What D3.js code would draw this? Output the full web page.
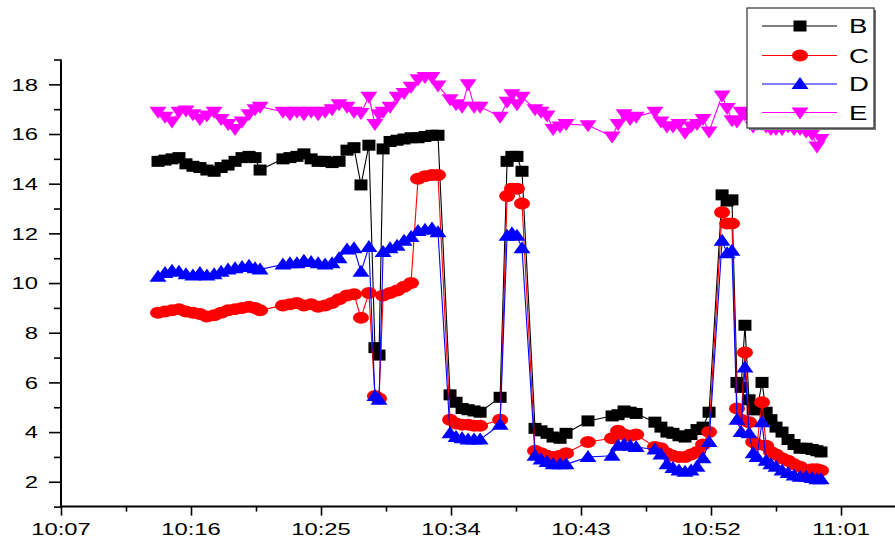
<!DOCTYPE html>
<html><head><meta charset="utf-8">
<script src="https://cdn.jsdelivr.net/npm/d3@7"></script>
<style>
html,body{margin:0;padding:0;background:#fff;}
svg{display:block;}
text{font-family:Arial,"Liberation Sans",sans-serif;}
</style></head>
<body>
<svg id="c" width="895" height="543"></svg>
<script>
const times = [
"10:13:43","10:14:12","10:14:41","10:15:10","10:15:39","10:16:08","10:16:37","10:17:06","10:17:36","10:18:05","10:18:34","10:19:03","10:19:32","10:20:01","10:20:26","10:20:47",
"10:22:22","10:22:51","10:23:20","10:23:49","10:24:19","10:24:48","10:25:17","10:25:46","10:26:15","10:26:48","10:27:17","10:27:46","10:28:19","10:28:44","10:29:01",
"10:29:18","10:29:47","10:30:16","10:30:45","10:31:14","10:31:43","10:32:12","10:32:41","10:33:06",
"10:33:56","10:34:21","10:34:46","10:35:11","10:35:36","10:36:01","10:37:24",
"10:37:53","10:38:13","10:38:34","10:38:55",
"10:39:49","10:40:14","10:40:39","10:41:04","10:41:33","10:41:58","10:43:29","10:45:09","10:45:34","10:45:59","10:46:24","10:46:49","10:48:07","10:48:32","10:48:57","10:49:22","10:49:47","10:50:12","10:50:37","10:51:02","10:51:27","10:51:52",
"10:52:46","10:53:07","10:53:27","10:53:48","10:54:05","10:54:21","10:54:38","10:54:55","10:55:11","10:55:32","10:55:49","10:56:09","10:56:30","10:56:55","10:57:20","10:57:45","10:58:10","10:58:35","10:59:00","10:59:20","10:59:37"
];
const seriesB = [
14.9,14.95,15.0,15.05,14.8,14.7,14.65,14.55,14.5,14.65,14.75,14.9,15.05,15.1,15.05,14.55,
15.0,15.05,15.1,15.2,15.0,14.9,14.9,14.85,14.9,15.35,15.45,13.95,15.55,7.4,7.1,
15.4,15.7,15.75,15.8,15.85,15.85,15.9,15.95,15.95,
5.5,5.2,4.95,4.9,4.85,4.8,5.4,
14.9,15.1,15.1,14.5,
4.15,4.05,3.95,3.8,3.75,3.95,4.45,4.65,4.7,4.85,4.8,4.75,4.4,4.2,4.0,3.95,3.85,3.8,3.9,4.1,4.2,4.8,
13.55,13.3,13.35,6.0,5.8,8.3,5.3,4.9,4.9,6.0,4.8,4.5,4.2,4.0,3.7,3.5,3.35,3.35,3.3,3.25,3.2
];
const seriesC = [
8.8,8.85,8.9,8.95,8.85,8.8,8.75,8.65,8.7,8.8,8.9,8.95,9.0,9.05,9.0,8.9,
9.1,9.15,9.2,9.1,9.15,9.05,9.1,9.2,9.35,9.5,9.55,8.6,9.6,5.45,5.35,
9.5,9.6,9.7,9.85,10.0,14.2,14.3,14.35,14.35,
4.5,4.35,4.3,4.3,4.25,4.25,4.5,
13.5,13.8,13.8,13.2,
3.25,3.15,3.05,3.0,3.05,3.15,3.6,3.75,4.05,3.9,3.85,3.9,3.4,3.35,3.15,3.05,3.0,3.0,3.1,3.2,3.5,4.0,
12.85,12.4,12.4,4.95,4.5,7.2,4.4,3.6,3.5,5.2,3.45,3.2,3.1,2.95,2.85,2.7,2.6,2.45,2.5,2.5,2.45
];
const seriesD = [
10.25,10.4,10.5,10.45,10.35,10.3,10.4,10.3,10.35,10.45,10.55,10.6,10.65,10.7,10.6,10.55,
10.75,10.8,10.8,10.9,10.85,10.8,10.75,10.8,11.0,11.35,11.4,10.45,11.45,5.45,5.3,
11.25,11.4,11.5,11.7,11.85,12.1,12.15,12.2,12.05,
3.95,3.8,3.75,3.7,3.7,3.7,4.3,
11.9,12.0,11.9,11.4,
3.05,2.9,2.8,2.7,2.7,2.7,3.0,3.05,3.45,3.5,3.45,3.4,3.3,3.1,2.7,2.55,2.45,2.4,2.45,2.6,2.95,3.6,
11.7,11.2,11.3,4.5,4.0,6.6,3.95,3.15,3.0,4.4,2.85,2.7,2.6,2.45,2.35,2.25,2.2,2.2,2.15,2.1,2.1
];
const seriesE = [
16.9,16.7,16.5,16.9,16.95,16.8,16.6,16.75,16.9,16.6,16.4,16.2,16.5,16.8,17.0,17.1,
16.9,16.8,16.9,16.8,16.9,16.8,16.9,17.0,17.2,17.1,16.9,16.85,17.5,16.4,16.8,
16.9,17.1,17.5,17.65,17.9,18.2,18.3,18.3,17.95,
17.4,17.2,17.1,18.0,17.1,17.1,16.7,
17.3,17.6,17.2,17.5,
17.0,16.9,16.75,16.2,16.3,16.4,16.35,15.9,16.4,16.8,16.6,16.7,16.9,16.5,16.3,16.3,16.4,16.05,16.3,16.4,16.6,16.1,
17.55,17.05,16.55,16.5,16.9,16.8,16.7,16.3,16.4,16.4,16.3,16.2,16.2,16.2,16.3,16.2,16.2,16.1,16.0,15.5,15.8
];
const seriesNames = ["B","C","D","E"];
const seriesColors = ["#000000","#ff0000","#0000ff","#ff00ff"];
const xTickLabels = ["10:07","10:16","10:25","10:34","10:43","10:52","11:01"];
const yTickLabels = [2,4,6,8,10,12,14,16,18];

const parse = d3.timeParse("%H:%M:%S");
const parseHM = d3.timeParse("%H:%M");
const svg = d3.select("#c");
const x = d3.scaleTime().domain([parseHM("10:07"), parseHM("11:01")]).range([61, 841]);
const y = d3.scaleLinear().domain([1, 19]).range([506.6, 59.5]);
const SX = 1.4;

// axes
const yMinor = d3.range(1, 20, 2);
const gy = svg.append("g").attr("transform","translate(61,0)");
gy.call(d3.axisLeft(y).tickValues(yTickLabels).tickSize(12).tickFormat(""));
gy.append("g").call(d3.axisLeft(y).tickValues(yMinor).tickSize(7).tickFormat(""));
gy.selectAll(".domain").remove();
gy.append("line").attr("x1",0).attr("x2",0).attr("y1",y(19)).attr("y2",y(1)+1).attr("stroke","#000").attr("stroke-width",2);
gy.selectAll(".tick line").attr("stroke","#000").attr("stroke-width",1.6);

const xMajor = xTickLabels.map(parseHM);
const xMinor = [];
for (let i=0;i<xMajor.length;i++){ xMinor.push(new Date(xMajor[i].getTime()+4.5*60000)); }
const gx = svg.append("g").attr("transform","translate(0,506.6)");
gx.call(d3.axisBottom(x).tickValues(xMajor).tickSize(9).tickFormat(""));
gx.append("g").call(d3.axisBottom(x).tickValues(xMinor.filter(d=>x(d)<895)).tickSize(5).tickFormat(""));
gx.selectAll(".domain").remove();
gx.append("line").attr("x1",60).attr("x2",895).attr("y1",0).attr("y2",0).attr("stroke","#000").attr("stroke-width",2);
gx.selectAll(".tick line").attr("stroke","#000").attr("stroke-width",1.6);

// tick labels
svg.append("g").selectAll("text").data(yTickLabels).join("text")
  .attr("transform", d=>`translate(38,${y(d)+6.3}) scale(${SX},1)`)
  .attr("text-anchor","end").attr("font-size",17).attr("fill","#000").text(d=>d);
svg.append("g").selectAll("text").data(xTickLabels).join("text")
  .attr("transform", d=>`translate(${x(parseHM(d))},535) scale(${SX},1)`)
  .attr("text-anchor","middle").attr("font-size",17).attr("fill","#000").text(d=>d);

// markers
function marker(g, k, color){
  if(k===0) g.append("rect").attr("x",-6.5).attr("y",-5.5).attr("width",13).attr("height",11).attr("fill",color);
  else if(k===1) g.append("ellipse").attr("rx",8).attr("ry",6).attr("fill",color);
  else if(k===2) g.append("path").attr("d","M0,-7 L8.5,5 L-8.5,5 Z").attr("fill",color);
  else g.append("path").attr("d","M0,7 L8.5,-5 L-8.5,-5 Z").attr("fill",color);
}

const allSeries = [seriesB, seriesC, seriesD, seriesE];
const tDates = times.map(parse);
allSeries.forEach((vals,k)=>{
  const pts = vals.map((v,i)=>({t:tDates[i], v}));
  const g = svg.append("g");
  g.append("path").datum(pts)
    .attr("d", d3.line().x(d=>x(d.t)).y(d=>y(d.v)))
    .attr("fill","none").attr("stroke",seriesColors[k]).attr("stroke-width",1.1);
  pts.forEach(p=>{
    const m = g.append("g").attr("transform",`translate(${x(p.t)},${y(p.v)})`);
    marker(m,k,seriesColors[k]);
  });
});

// legend
const lg = svg.append("g");
lg.append("rect").attr("x",749).attr("y",10).attr("width",127).attr("height",120).attr("fill","#777");
lg.append("rect").attr("x",747).attr("y",8).attr("width",127).attr("height",120).attr("fill","#fff").attr("stroke","#333").attr("stroke-width",1.2);
const rowY = [26,55.5,84,112.5];
seriesNames.forEach((n,k)=>{
  lg.append("line").attr("x1",762).attr("x2",837).attr("y1",rowY[k]).attr("y2",rowY[k]).attr("stroke",seriesColors[k]).attr("stroke-width",1.1);
  const m = lg.append("g").attr("transform",`translate(800,${rowY[k]})`);
  marker(m,k,seriesColors[k]);
  lg.append("text").attr("transform",`translate(849,${rowY[k]+7.3}) scale(1.38,1)`).attr("font-size",20).attr("fill","#000").text(n);
});
</script>
</body></html>
